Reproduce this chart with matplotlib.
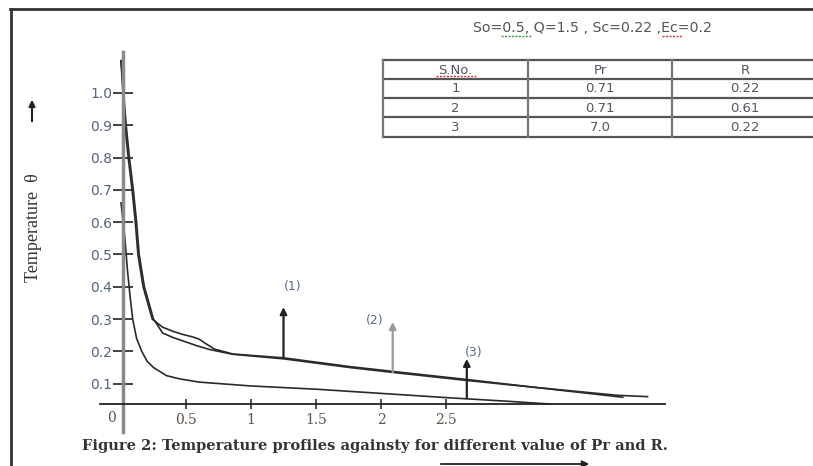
import matplotlib.pyplot as plt

W, H = 813, 466

# temperature profiles (eta, theta)
eta_1 = [0, 0.03, 0.055, 0.085, 0.11, 0.13, 0.17, 0.24, 0.32, 0.40, 0.48, 0.55, 0.60, 0.66,
         0.72, 0.86, 1.25, 1.76, 2.09, 2.66, 3.20, 3.86]
theta_1 = [1.10, 0.90, 0.80, 0.70, 0.60, 0.50, 0.40, 0.30, 0.275, 0.262, 0.252, 0.245, 0.238,
           0.222, 0.207, 0.192, 0.180, 0.153, 0.138, 0.113, 0.088, 0.058]
eta_2 = [0, 0.04, 0.065, 0.095, 0.12, 0.14, 0.18, 0.25, 0.32, 0.40, 0.48, 0.58, 0.68, 0.86,
         1.25, 1.76, 2.09, 2.66, 3.20, 3.82, 4.05]
theta_2 = [1.10, 0.90, 0.80, 0.70, 0.60, 0.50, 0.40, 0.30, 0.257, 0.243, 0.232, 0.218, 0.206,
           0.191, 0.177, 0.150, 0.135, 0.110, 0.088, 0.064, 0.060]
eta_3 = [0, 0.03, 0.05, 0.07, 0.09, 0.12, 0.16, 0.20, 0.25, 0.35, 0.45, 0.60, 1.0, 1.5, 2.0,
         2.5, 3.0, 3.3]
theta_3 = [0.66, 0.55, 0.45, 0.37, 0.30, 0.24, 0.20, 0.17, 0.15, 0.125, 0.115, 0.105, 0.093,
           0.083, 0.070, 0.057, 0.045, 0.037]

# curve markers
arrow_eta = [1.25, 2.09, 2.66]
arrow_from = [0.18, 0.136, 0.056]
arrow_to = [0.337, 0.291, 0.177]
arrow_colors = ["#222222", "#999999", "#222222"]
arrow_labels = ["(1)", "(2)", "(3)"]
label_eta = [1.32, 1.95, 2.71]
label_theta = [0.40, 0.297, 0.198]

x_ticks = [0.5, 1, 1.5, 2, 2.5]
x_ticklabels = ["0.5", "1", "1.5", "2", "2.5"]
y_ticks = [0.1, 0.2, 0.3, 0.4, 0.5, 0.6, 0.7, 0.8, 0.9, 1.0]
y_ticklabels = ["0.1", "0.2", "0.3", "0.4", "0.5", "0.6", "0.7", "0.8", "0.9", "1.0"]

# parameter table
table_header = ["S.No.", "Pr", "R"]
table_sno = ["1", "2", "3"]
table_pr = ["0.71", "0.71", "7.0"]
table_r = ["0.22", "0.61", "0.22"]

params_text = "So=0.5, Q=1.5 , Sc=0.22 ,Ec=0.2"
caption = "Figure 2: Temperature profiles againsty for different value of Pr and R."

fig = plt.figure(figsize=(W / 100, H / 100), dpi=100)

# page / decoration layer in pixel coords
deco = fig.add_axes([0, 0, 1, 1])
deco.set_xlim(0, W)
deco.set_ylim(H, 0)
deco.axis("off")

# frame
deco.plot([10, W], [9, 9], color="#333333", lw=2)
deco.plot([10.5, 10.5], [9, H], color="#333333", lw=2)

# parameter line (with the spell-check squiggles of the source document)
deco.text(592, 28, params_text, ha="center", va="center", fontsize=10.2,
          color="#555555", family="DejaVu Sans")
deco.plot([501, 531], [36, 36], color="#3a9a3a", lw=1, ls=(0, (1.5, 1)))
deco.plot([662, 682], [36, 36], color="#d03030", lw=1, ls=(0, (1.5, 1)))

# table
t_left, t_right = 383, 818
col_x = [383, 528, 672, 818]
row_y = [60, 79, 98, 117, 137]
for y in row_y:
    deco.plot([t_left, t_right], [y, y], color="#555555", lw=1.6)
for x in col_x:
    deco.plot([x, x], [row_y[0], row_y[-1]], color="#777777", lw=1.6)
cols = [[table_header[0]] + table_sno, [table_header[1]] + table_pr, [table_header[2]] + table_r]
for c, col in enumerate(cols):
    cx = (col_x[c] + col_x[c + 1]) / 2
    for r, val in enumerate(col):
        cy = (row_y[r] + row_y[r + 1]) / 2
        deco.text(cx, cy + 0.5, val, ha="center", va="center", fontsize=9.5,
                  color="#555560", family="DejaVu Sans")
deco.plot([436, 476], [76, 76], color="#d03030", lw=1, ls=(0, (1.5, 1)))

# y label with arrow
deco.text(33, 228, "Temperature  θ", rotation=90, ha="center", va="center",
          fontsize=13, color="#333333", family="Liberation Serif")
deco.annotate("", xy=(32, 97), xytext=(32, 124),
              arrowprops=dict(arrowstyle="-|>", color="#222222", lw=1.5, mutation_scale=9))

# caption and eta arrow
deco.text(82, 446, caption, ha="left", va="center", fontsize=10.5, fontweight="bold",
          color="#333333", family="DejaVu Serif")
deco.annotate("", xy=(592, 464), xytext=(438, 464),
              arrowprops=dict(arrowstyle="-|>", color="#222222", lw=1.3, mutation_scale=10))

# plot axes: 0 at px 121, 130 px per unit in x; theta 0 at px 416, 323 px per unit
ax = fig.add_axes([100 / W, (H - 432) / H, 565 / W, 380 / H])
ax.patch.set_alpha(0)
ax.set_xlim(-21 / 130, 544 / 130)
ax.set_ylim((416 - 432) / 323, (416 - 52) / 323)

for s in ["top", "right"]:
    ax.spines[s].set_visible(False)
ax.spines["left"].set_position(("data", 0.012))
ax.spines["left"].set_color("#8a8a8a")
ax.spines["left"].set_linewidth(2.5)
ax.spines["bottom"].set_position(("data", 0.037))
ax.spines["bottom"].set_color("#222222")
ax.spines["bottom"].set_linewidth(1.3)

ax.plot(eta_1, theta_1, color="#2a2a2a", lw=1.2)
ax.plot(eta_2, theta_2, color="#2a2a2a", lw=1.2)
ax.plot(eta_3, theta_3, color="#2a2a2a", lw=1.2)

for x, y0, y1, c in zip(arrow_eta, arrow_from, arrow_to, arrow_colors):
    ax.annotate("", xy=(x, y1), xytext=(x, y0),
                arrowprops=dict(arrowstyle="-|>", color=c, lw=1.6, mutation_scale=10,
                                shrinkA=0, shrinkB=0))
for x, y, t in zip(label_eta, label_theta, arrow_labels):
    ax.text(x, y, t, ha="center", va="center", fontsize=9, color="#5a6a88",
            family="DejaVu Sans")

ax.set_yticks(y_ticks)
ax.set_yticklabels(y_ticklabels)
ax.tick_params(axis="y", direction="inout", length=14.5, width=1.3, color="#333333",
               pad=0, labelsize=10, labelcolor="#56627e")
ax.set_xticks(x_ticks)
ax.set_xticklabels(x_ticklabels, family="DejaVu Serif")
ax.tick_params(axis="x", direction="inout", length=7, width=1.2, color="#333333",
               pad=3, labelsize=10, labelcolor="#5e5548")
ax.text(-0.07, 0.015, "0", ha="center", va="top", fontsize=10, color="#5e5548",
        family="DejaVu Serif")

fig.savefig("out.png", dpi=100)
